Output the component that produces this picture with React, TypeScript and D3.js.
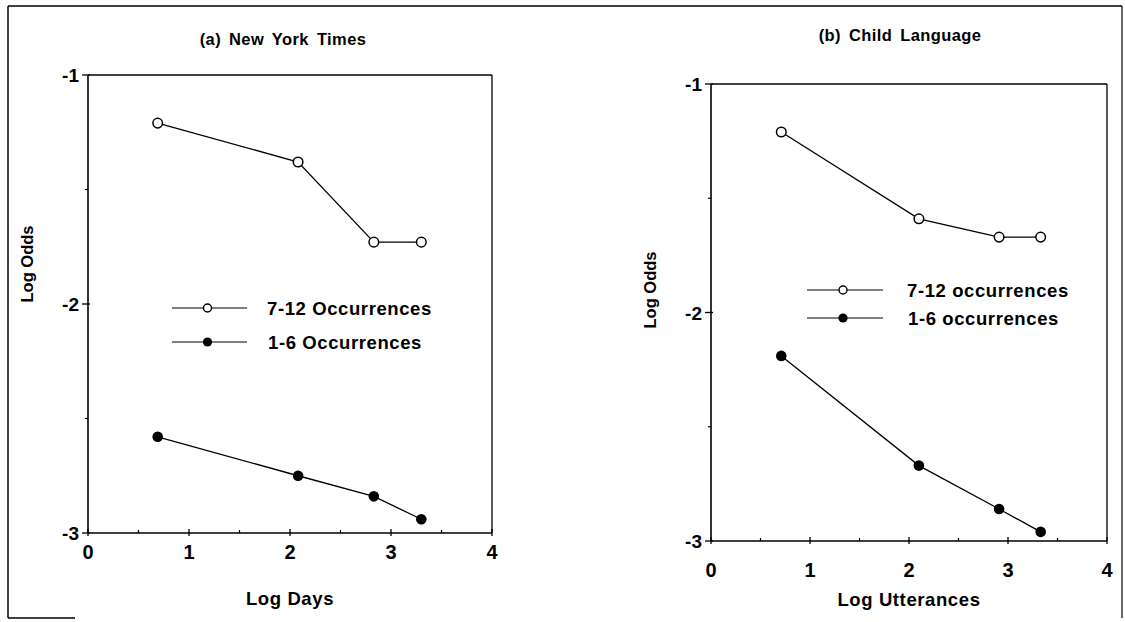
import * as d3 from 'd3';

const xTicks = [0, 1, 2, 3, 4];
const xMinor = [0.5, 1.5, 2.5, 3.5];
const yTicks = [-1, -2, -3];
const yMinor = [-1.5, -2.5];

const nytX = [0.69, 2.08, 2.83, 3.3];
const nytHigh = [-1.21, -1.38, -1.73, -1.73];
const nytLow = [-2.58, -2.75, -2.84, -2.94];

const childX = [0.71, 2.1, 2.91, 3.33];
const childHigh = [-1.21, -1.59, -1.67, -1.67];
const childLow = [-2.19, -2.67, -2.86, -2.96];

const FONT = "'Liberation Sans', Arial, Helvetica, sans-serif";

interface PanelProps {
  title: string;
  titleX: number;
  titleY: number;
  xLabel: string;
  xs: number[];
  high: number[];
  low: number[];
  highName: string;
  lowName: string;
  box: { left: number; right: number; top: number; bottom: number };
  tickLabelDy: number;
  xLabelY: number;
  yLabelX: number;
  yLabelY: number;
  legend: { x0: number; x1: number; y: number; gap: number; textX: number };
}

const Panel = (p: PanelProps) => {
  const x = d3.scaleLinear().domain([0, 4]).range([p.box.left, p.box.right]);
  const y = d3.scaleLinear().domain([-3, -1]).range([p.box.bottom, p.box.top]);
  const line = d3.line<number>().x((_, i) => x(p.xs[i])).y(d => y(d));
  const { left, right, top, bottom } = p.box;
  const lg = p.legend;
  const cx = (lg.x0 + lg.x1) / 2 - 2;

  return (
    <g fontFamily={FONT} fontWeight="bold" fill="#000">
      <text x={p.titleX} y={p.titleY} textAnchor="middle" fontSize={16.5} letterSpacing={0.4} wordSpacing={3}>
        {p.title}
      </text>

      {/* plot frame */}
      <line x1={left} x2={right} y1={top} y2={top} stroke="#000" strokeWidth={1.3} />
      <line x1={right} x2={right} y1={top} y2={bottom} stroke="#000" strokeWidth={1.3} />
      <line x1={left} x2={left} y1={top} y2={bottom} stroke="#000" strokeWidth={1.6} />
      <line x1={left} x2={right} y1={bottom} y2={bottom} stroke="#000" strokeWidth={1.6} />

      {/* x axis */}
      {xTicks.map(t => (
        <g key={'xt' + t}>
          <line x1={x(t)} x2={x(t)} y1={bottom - 4} y2={bottom + 3} stroke="#000" strokeWidth={1.3} />
          <text x={x(t)} y={bottom + p.tickLabelDy} textAnchor="middle" fontSize={20}>{t}</text>
        </g>
      ))}
      {xMinor.map(t => (
        <line key={'xm' + t} x1={x(t)} x2={x(t)} y1={bottom - 3} y2={bottom} stroke="#000" strokeWidth={1.2} />
      ))}

      {/* y axis */}
      {yTicks.map(t => (
        <g key={'yt' + t}>
          <line x1={left - 6} x2={left + 2} y1={y(t)} y2={y(t)} stroke="#000" strokeWidth={1.3} />
          <text x={left - 9} y={y(t)} dy="0.38em" textAnchor="end" fontSize={19}>{t}</text>
        </g>
      ))}
      {yMinor.map(t => (
        <line key={'ym' + t} x1={left - 3} x2={left} y1={y(t)} y2={y(t)} stroke="#000" strokeWidth={1.2} />
      ))}

      <text x={(left + right) / 2} y={p.xLabelY} textAnchor="middle" fontSize={18.5} letterSpacing={0.6}>
        {p.xLabel}
      </text>
      <text
        transform={`translate(${p.yLabelX},${p.yLabelY}) rotate(-90)`}
        textAnchor="middle"
        fontSize={16.5}
        letterSpacing={0}
      >
        Log Odds
      </text>

      {/* series */}
      <path d={line(p.high) || ''} fill="none" stroke="#000" strokeWidth={1.3} />
      <path d={line(p.low) || ''} fill="none" stroke="#000" strokeWidth={1.3} />
      {p.high.map((v, i) => (
        <circle key={'h' + i} cx={x(p.xs[i])} cy={y(v)} r={4.8} fill="#fff" stroke="#000" strokeWidth={1.5} />
      ))}
      {p.low.map((v, i) => (
        <circle key={'l' + i} cx={x(p.xs[i])} cy={y(v)} r={5.3} fill="#000" />
      ))}

      {/* legend */}
      <line x1={lg.x0} x2={lg.x1} y1={lg.y} y2={lg.y} stroke="#000" strokeWidth={1.2} />
      <circle cx={cx} cy={lg.y} r={4} fill="#fff" stroke="#000" strokeWidth={1.4} />
      <text x={lg.textX} y={lg.y} dy="0.36em" fontSize={18.5} letterSpacing={0.6}>{p.highName}</text>
      <line x1={lg.x0} x2={lg.x1} y1={lg.y + lg.gap} y2={lg.y + lg.gap} stroke="#000" strokeWidth={1.2} />
      <circle cx={cx} cy={lg.y + lg.gap} r={4.6} fill="#000" />
      <text x={lg.textX + 1} y={lg.y + lg.gap} dy="0.36em" fontSize={18.5} letterSpacing={0.6}>{p.lowName}</text>
    </g>
  );
};

export default function App() {
  return (
    <svg
      width={1125}
      height={622}
      style={{ position: 'absolute', left: 0, top: 0, background: '#fff' }}
    >
      <rect x={0} y={0} width={1125} height={622} fill="#fff" />
      {/* outer frame */}
      <line x1={8} x2={1122} y1={6} y2={6} stroke="#000" strokeWidth={1.5} />
      <line x1={8} x2={8} y1={6} y2={618} stroke="#000" strokeWidth={1.5} />
      <line x1={1122} x2={1122} y1={6} y2={618} stroke="#000" strokeWidth={1.2} />
      <line x1={8} x2={75} y1={618} y2={618} stroke="#000" strokeWidth={1.5} />

      <Panel
        title="(a) New York Times"
        titleX={283}
        titleY={45}
        xLabel="Log Days"
        xs={nytX}
        high={nytHigh}
        low={nytLow}
        highName="7-12 Occurrences"
        lowName="1-6 Occurrences"
        box={{ left: 88, right: 492, top: 75, bottom: 533 }}
        tickLabelDy={26}
        xLabelY={605}
        yLabelX={33}
        yLabelY={264}
        legend={{ x0: 172, x1: 247, y: 308, gap: 34, textX: 267 }}
      />
      <Panel
        title="(b) Child Language"
        titleX={900}
        titleY={41}
        xLabel="Log Utterances"
        xs={childX}
        high={childHigh}
        low={childLow}
        highName="7-12 occurrences"
        lowName="1-6 occurrences"
        box={{ left: 711, right: 1107, top: 84, bottom: 541 }}
        tickLabelDy={36}
        xLabelY={606}
        yLabelX={656}
        yLabelY={290}
        legend={{ x0: 807, x1: 883, y: 290, gap: 28, textX: 907 }}
      />
    </svg>
  );
}
